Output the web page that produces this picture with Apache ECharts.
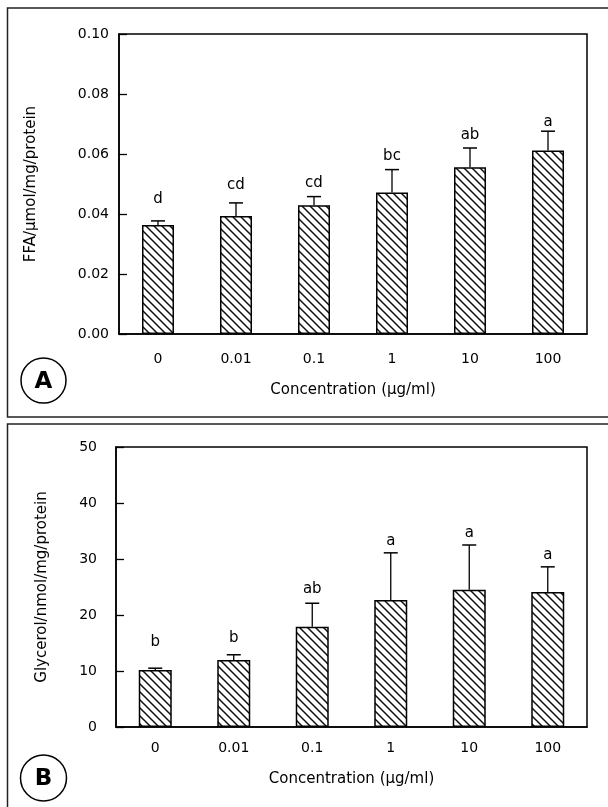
<!DOCTYPE html>
<html><head><meta charset="utf-8">
<script src="https://cdn.jsdelivr.net/npm/echarts@6/dist/echarts.min.js"></script>
<style>html,body{margin:0;padding:0;background:#fff}#c{width:608px;height:807px}</style>
</head><body><div id="c"></div>
<script>
// ---- data ----
const categories = ['0', '0.01', '0.1', '1', '10', '100'];
const ffaMean = [0.0363, 0.0393, 0.0429, 0.0472, 0.0556, 0.0612];
const ffaErrTop = [0.0377, 0.0437, 0.0458, 0.0548, 0.0620, 0.0676];
const ffaLetters = ['d', 'cd', 'cd', 'bc', 'ab', 'a'];
const ffaLetterAt = [0.0436, 0.0480, 0.0488, 0.0578, 0.0649, 0.0690];
const glyMean = [10.2, 11.95, 17.9, 22.7, 24.5, 24.1];
const glyErrTop = [10.5, 12.9, 22.1, 31.1, 32.5, 28.6];
const glyLetters = ['b', 'b', 'ab', 'a', 'a', 'a'];
const glyLetterAt = [14.4, 15.1, 23.8, 32.4, 33.9, 29.9];
const xName = 'Concentration (µg/ml)';
const ffaName = 'FFA/µmol/mg/protein';
const glyName = 'Glycerol/nmol/mg/protein';

const FONT = 'DejaVu Sans';

function hatch() {
  const c = document.createElement('canvas');
  c.width = 8; c.height = 8;
  const g = c.getContext('2d');
  g.fillStyle = '#fff'; g.fillRect(0, 0, 8, 8);
  g.strokeStyle = '#111'; g.lineWidth = 1.5;
  g.beginPath();
  g.moveTo(-2, -2); g.lineTo(10, 10);
  g.moveTo(-2, 6); g.lineTo(2, 10);
  g.moveTo(6, -2); g.lineTo(10, 2);
  g.stroke();
  return c;
}
const pattern = { image: hatch(), repeat: 'repeat' };

function barSeries(vals, idx, bw) {
  return {
    type: 'bar', xAxisIndex: idx, yAxisIndex: idx, data: vals, barWidth: bw,
    itemStyle: { color: pattern, borderColor: '#000', borderWidth: 1.5 },
    silent: true, z: 3
  };
}
function errSeries(means, tops, idx) {
  return {
    type: 'custom', xAxisIndex: idx, yAxisIndex: idx, silent: true, z: 5,
    data: means.map((m, i) => [i, m, tops[i]]),
    encode: { x: 0, y: [1, 2] },
    renderItem: (p, api) => {
      const b = api.coord([api.value(0), api.value(1)]);
      const t = api.coord([api.value(0), api.value(2)]);
      const hw = 7;
      return { type: 'group', children: [
        { type: 'line', shape: { x1: b[0], y1: b[1], x2: t[0], y2: t[1] }, style: { stroke: '#000', lineWidth: 1.3 } },
        { type: 'line', shape: { x1: t[0] - hw, y1: t[1], x2: t[0] + hw, y2: t[1] }, style: { stroke: '#000', lineWidth: 1.5 } }
      ]};
    }
  };
}
function letterSeries(at, letters, idx) {
  return {
    type: 'custom', xAxisIndex: idx, yAxisIndex: idx, silent: true, z: 6,
    data: at.map((v, i) => [i, v]),
    encode: { x: 0, y: 1 },
    renderItem: (p, api) => {
      const pt = api.coord([api.value(0), api.value(1)]);
      return { type: 'text', x: pt[0], y: pt[1] + 3, style: {
        text: letters[p.dataIndex], fill: '#000', font: '15px "' + FONT + '"',
        align: 'center', verticalAlign: 'bottom' } };
    }
  };
}
function xAx(idx, margin, gap) {
  return {
    type: 'category', gridIndex: idx, data: categories, boundaryGap: true,
    axisLine: { lineStyle: { color: '#000', width: 1.5 } },
    axisTick: { inside: true, length: 6, lineStyle: { color: '#000', width: 1.3 } },
    axisLabel: { color: '#000', fontFamily: FONT, fontSize: 14, margin: margin, interval: 0 },
    name: xName, nameLocation: 'middle', nameGap: gap,
    nameTextStyle: { color: '#000', fontFamily: FONT, fontSize: 15 }
  };
}
function yAx(idx, max, interval, fmt, margin, name, gap) {
  return {
    type: 'value', gridIndex: idx, min: 0, max: max, interval: interval,
    axisLine: { show: true, lineStyle: { color: '#000', width: 1.5 } },
    axisTick: { show: true, inside: true, length: 8, lineStyle: { color: '#000', width: 1.3 } },
    splitLine: { show: false },
    axisLabel: { color: '#000', fontFamily: FONT, fontSize: 14, margin: margin, formatter: fmt },
    name: name, nameLocation: 'middle', nameGap: gap,
    nameTextStyle: { color: '#000', fontFamily: FONT, fontSize: 15 }
  };
}

const chart = echarts.init(document.getElementById('c'), null, { renderer: 'canvas' });
chart.setOption({
  animation: false,
  backgroundColor: '#fff',
  grid: [
    { left: 119, top: 34, width: 468, height: 300, show: true, borderColor: '#000', borderWidth: 1.5 },
    { left: 116, top: 447, width: 471, height: 280, show: true, borderColor: '#000', borderWidth: 1.5 }
  ],
  xAxis: [xAx(0, 18, 49), xAx(1, 14, 45)],
  yAxis: [
    yAx(0, 0.1, 0.02, v => v.toFixed(2), 10, ffaName, 80),
    yAx(1, 50, 10, v => String(v), 19, glyName, 66)
  ],
  series: [
    barSeries(ffaMean, 0, 32), errSeries(ffaMean, ffaErrTop, 0), letterSeries(ffaLetterAt, ffaLetters, 0),
    barSeries(glyMean, 1, 33), errSeries(glyMean, glyErrTop, 1), letterSeries(glyLetterAt, glyLetters, 1)
  ],
  graphic: [
    { type: 'rect', silent: true, shape: { x: 7.5, y: 8, width: 640, height: 409 }, style: { fill: null, stroke: '#222', lineWidth: 1.5 } },
    { type: 'rect', silent: true, shape: { x: 7.5, y: 424, width: 640, height: 420 }, style: { fill: null, stroke: '#222', lineWidth: 1.5 } },
    { type: 'circle', silent: true, shape: { cx: 43.5, cy: 380.5, r: 22.5 }, style: { fill: '#fff', stroke: '#000', lineWidth: 1.5 } },
    { type: 'text', silent: true, x: 43.5, y: 382, style: { text: 'A', font: 'bold 23px "' + FONT + '"', align: 'center', verticalAlign: 'middle', fill: '#000' } },
    { type: 'circle', silent: true, shape: { cx: 43.5, cy: 778, r: 23 }, style: { fill: '#fff', stroke: '#000', lineWidth: 1.5 } },
    { type: 'text', silent: true, x: 43.5, y: 779.5, style: { text: 'B', font: 'bold 23px "' + FONT + '"', align: 'center', verticalAlign: 'middle', fill: '#000' } }
  ]
});
</script>
</body></html>
